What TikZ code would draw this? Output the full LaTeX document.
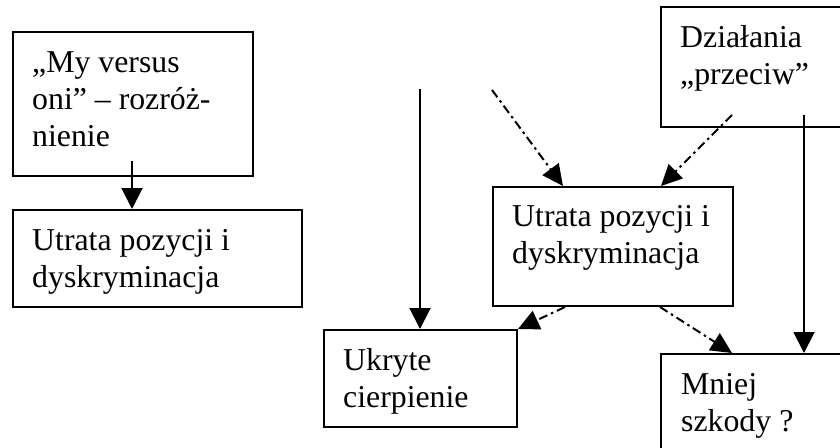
\documentclass[tikz,border=0pt]{standalone}
\usepackage{fontspec}
\setmainfont{Liberation Serif}
\usetikzlibrary{arrows.meta,calc}
\begin{document}
\begin{tikzpicture}[x=1pt,y=-1pt,
  box/.style={draw, line width=2pt, inner sep=0pt, anchor=north west},
  txt/.style={anchor=base west, inner sep=0pt, font=\fontsize{31.8}{37}\selectfont},
  arr/.style={line width=2pt, -{Triangle[length=21pt,width=21pt]}},
  dasharr/.style={line width=2pt, dash pattern=on 9pt off 4pt on 2.5pt off 4pt,
                  -{Triangle[length=21pt,width=20pt]}}]
\useasboundingbox (0,0) rectangle (840,447);
\clip (0,0) rectangle (840,447);

% boxes
\node[box, minimum width=240pt, minimum height=144pt] (b1) at (12,31) {};
\node[box, minimum width=289pt, minimum height=97pt]  (b2) at (12,209) {};
\node[box, minimum width=200pt, minimum height=120pt] (bd) at (660,6) {};
\node[box, minimum width=240pt, minimum height=119pt] (bc) at (492,186) {};
\node[box, minimum width=193pt, minimum height=97pt]  (bu) at (323,329) {};
\node[box, minimum width=200pt, minimum height=120pt] (bm) at (660,353) {};

% box texts
\node[txt] (t1a) at (32,72)  {„My versus};
\node[txt] (t1b) at (32,109) {oni” – rozróż-};
\node[txt] (t1c) at (32,146) {nienie};
\node[txt] (t2a) at (32,250) {Utrata pozycji i};
\node[txt] (t2b) at (32,287) {dyskryminacja};
\node[txt] (tda) at (680,47) {Działania};
\node[txt] (tdb) at (680,84) {„przeciw”};
\node[txt] (tca) at (512,226) {Utrata pozycji i};
\node[txt] (tcb) at (512,263) {dyskryminacja};
\node[txt] (tua) at (343,370) {Ukryte};
\node[txt] (tub) at (343,407) {cierpienie};
\node[txt] (tma) at (681,394) {Mniej};
\node[txt] (tmb) at (681,431) {szkody ?};

% free line starts
\coordinate (s1) at (132,161);
\coordinate (s2) at (420,89);
\coordinate (s3) at (492,90);
\coordinate (s4) at ([xshift=72pt,yshift=13pt]bd.south west);
\coordinate (s5) at ([xshift=144pt,yshift=13pt]bd.south west);

% connectors
\draw[arr] (s1) -- (s1 |- b2.north);
\draw[arr] (s2) -- (s2 |- bu.north);
\draw[arr] (s5) -- (s5 |- bm.north);
\draw[dasharr] (s3) -- ([xshift=71pt]bc.north west);
\draw[dasharr] (s4) -- ([xshift=169pt]bc.north west);
\draw[dasharr] ([xshift=73pt]bc.south west) -- (bu.north east);
\draw[dasharr] ([xshift=168pt]bc.south west) -- ([xshift=72pt]bm.north west);
\end{tikzpicture}
\end{document}
